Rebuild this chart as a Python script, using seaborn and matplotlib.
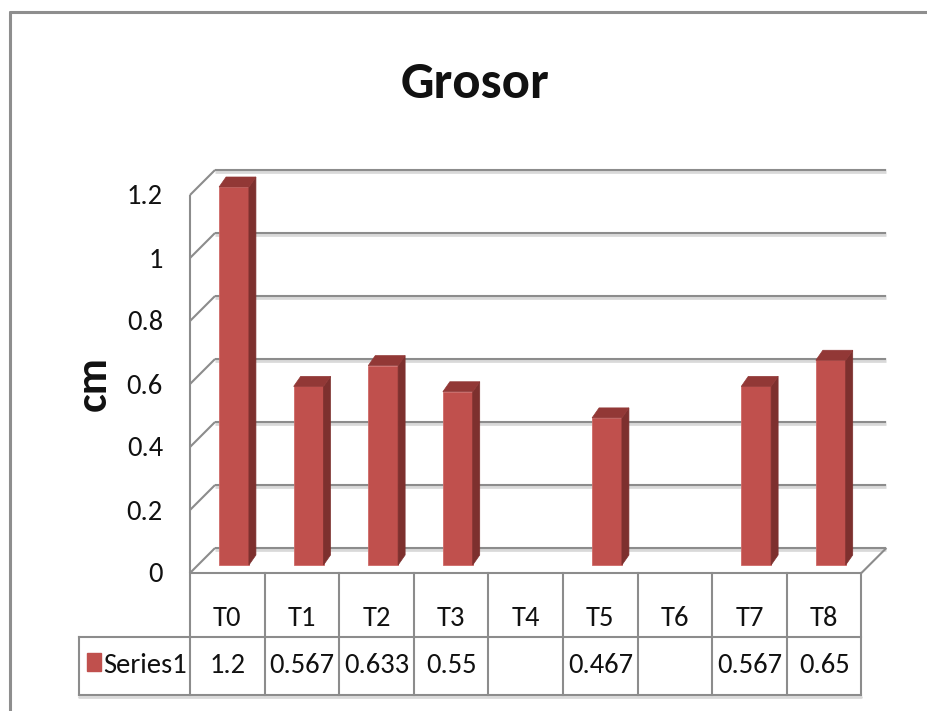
import matplotlib
matplotlib.use("Agg")
import matplotlib.pyplot as plt
from matplotlib.lines import Line2D
from matplotlib.patches import Polygon, Rectangle
import pandas as pd
import seaborn as sns

# ---- data -------------------------------------------------------------
categories = ["T0", "T1", "T2", "T3", "T4", "T5", "T6", "T7", "T8"]
grosor = [1.2, 0.567, 0.633, 0.55, None, 0.467, None, 0.567, 0.65]
y_ticks = [0.0, 0.2, 0.4, 0.6, 0.8, 1.0, 1.2]
y_tick_labels = ["0", "0.2", "0.4", "0.6", "0.8", "1", "1.2"]
series_name = "Series1"
chart_title = "Grosor"
y_label = "cm"

# ---- style ------------------------------------------------------------
sns.set_theme(style="white")
plt.rcParams["font.family"] = ["Carlito", "Liberation Sans", "DejaVu Sans"]

FRONT = "#C0504D"
SIDE = "#7D302E"
TOP = "#923836"
GRID = "#8C8C8C"
TEXT = "#111111"
FS = 20.5  # table / tick text size

W, H, DPI = 927, 711, 100
X0, DX = 227.3, 74.6   # pixel x of the first category centre, pixels per category
Y0, DY = 573.0, 315.0  # pixel y of value 0 on the front plane, pixels per unit


def px(x):
    return (x - X0) / DX


def py(y):
    return (Y0 - y) / DY


fig = plt.figure(figsize=(W / DPI, H / DPI), dpi=DPI)
fig.patch.set_facecolor("white")
xlim = (px(0), px(W))
ylim = (py(H), py(0))

ax = fig.add_axes([0, 0, 1, 1])
ax.set_xlim(xlim)
ax.set_ylim(ylim)
ax.axis("off")

# ---- 3-D frame: back wall gridlines, left wall, floor -----------------
BX, BY = 25 / DX, 25 / DY          # depth of the plot box
left, right = -0.5, len(categories) - 0.5
line_kw = dict(color=GRID, lw=1.5, solid_capstyle="butt", zorder=2)
shadow_kw = dict(color="#D9D9D9", lw=3.4, solid_capstyle="butt", zorder=1)
for v in y_ticks:
    ax.plot([left + BX, right + BX], [v + BY - 1.2 / DY] * 2, **shadow_kw)
    ax.plot([left + BX, right + BX], [v + BY] * 2, **line_kw)
    ax.plot([left, left + BX], [v, v + BY], **line_kw)
ax.plot([left, left], [0, y_ticks[-1]], **line_kw)
ax.plot([left, right], [0, 0], **line_kw)
ax.plot([right, right + BX], [0, BY], **line_kw)

# ---- y tick labels and axis title --------------------------------------
for v, lab in zip(y_ticks, y_tick_labels):
    ax.text(px(163), v - 9.5 / DY, lab, ha="right", va="baseline",
            fontsize=FS, color=TEXT)
ax.text(px(94), py(384), y_label, rotation=90, ha="center", va="center",
        fontsize=32, fontweight="bold", color=TEXT)
ax.text(px(475), py(98), chart_title, ha="center", va="baseline",
        fontsize=38, fontweight="bold", color=TEXT)

# ---- data table -------------------------------------------------------
row1, row2 = py(637), py(695)
key_left = px(79)
tbl_kw = dict(color=GRID, lw=1.5, solid_capstyle="projecting", zorder=2)
for k in range(len(categories) + 1):
    ax.plot([left + k] * 2, [0, row2], **tbl_kw)
ax.plot([key_left, right], [row1] * 2, **tbl_kw)
ax.plot([key_left, right], [row2] * 2, **tbl_kw)
ax.plot([key_left] * 2, [row1, row2], **tbl_kw)
ax.plot([key_left, right], [row2 - 1.5 / DY] * 2, color="#D9D9D9", lw=2, zorder=1)

for i, cat in enumerate(categories):
    ax.text(i, py(626), cat, ha="center", va="baseline", fontsize=FS, color=TEXT)
for i, val in enumerate(grosor):
    if val is not None:
        ax.text(i, py(673), f"{val:g}", ha="center", va="baseline",
                fontsize=FS, color=TEXT)
ax.add_patch(Rectangle((px(87), py(671)), 14 / DX, 18 / DY, color=FRONT, zorder=3))
ax.text(px(103), py(673), series_name, ha="left", va="baseline",
        fontsize=FS, color=TEXT)

# ---- bars (front faces via seaborn, depth faces from each bar) ---------
axb = fig.add_axes([6.7 / W, 8 / H, 1, 1])
df = pd.DataFrame({"category": categories, "grosor": grosor}).dropna()
sns.barplot(data=df, x="category", y="grosor", order=categories, color=FRONT,
            saturation=1, width=0.4, errorbar=None, ax=axb,
            edgecolor="#CF6A67", linewidth=0.6)
axb.set_xlim(xlim)
axb.set_ylim(ylim)
axb.axis("off")
axb.patch.set_alpha(0)

ddx, ddy = 7 / DX, 10 / DY
for p in list(axb.patches):
    x0, w, h = p.get_x(), p.get_width(), p.get_height()
    if not h == h:
        continue
    axb.add_patch(Polygon([(x0 + w, 0), (x0 + w + ddx, ddy), (x0 + w + ddx, h + ddy),
                           (x0 + w, h)], closed=True, facecolor=SIDE,
                          edgecolor=SIDE, lw=0.5, zorder=3))
    axb.add_patch(Polygon([(x0, h), (x0 + ddx, h + ddy), (x0 + w + ddx, h + ddy),
                           (x0 + w, h)], closed=True, facecolor=TOP,
                          edgecolor=TOP, lw=0.5, zorder=3))

# ---- chart area border ------------------------------------------------
fig.add_artist(Line2D([10 / W, 10 / W], [0, 1 - 12 / H], transform=fig.transFigure,
                      color="#8E8E8E", lw=2.2))
fig.add_artist(Line2D([10 / W, 1], [1 - 12 / H] * 2, transform=fig.transFigure,
                      color="#8E8E8E", lw=2.2))

fig.savefig("out.png", dpi=DPI, facecolor="white")
